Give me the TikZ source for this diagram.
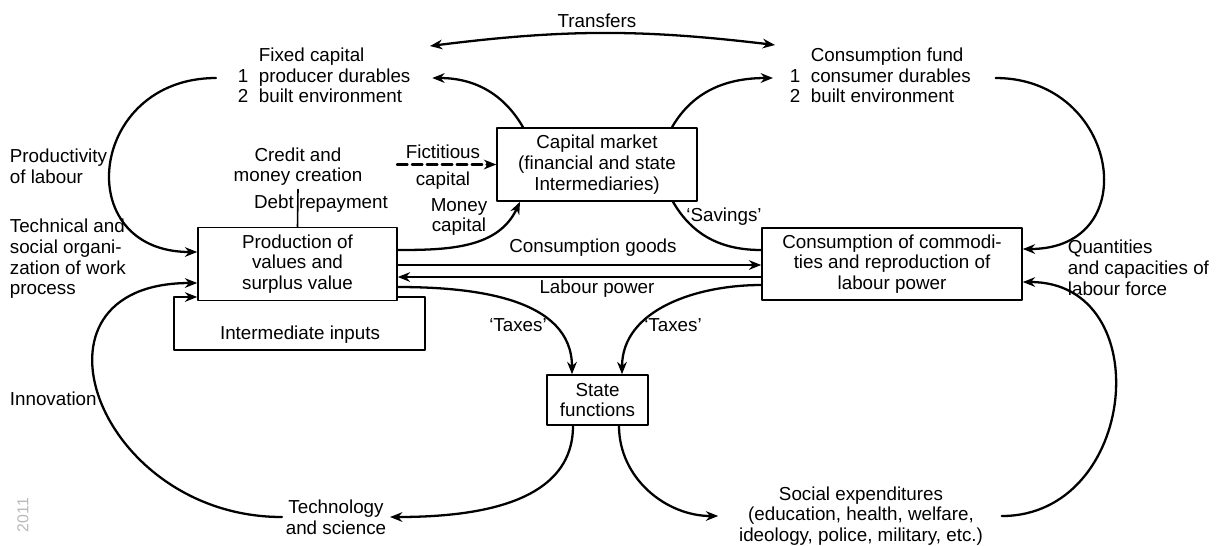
\documentclass[tikz,border=0pt]{standalone}
\usepackage{fontspec}
\setmainfont{Liberation Sans}
\usetikzlibrary{arrows.meta,positioning,calc}

\tikzset{
  block/.style={draw, line width=0.9pt, align=center, inner sep=2pt},
  lbl/.style={align=center, inner sep=2pt},
  flow/.style={line width=1.3pt},
}

\begin{document}
\begin{tikzpicture}[>={Stealth[length=7pt,width=5.5pt]}, line cap=round, line join=round,
  font=\fontsize{10.7pt}{11.8pt}\selectfont]

\useasboundingbox (0,0) rectangle (24.42,-10.9);

% --- boxes ---
\node[block, minimum width=3.98cm, minimum height=1.46cm] (prod) at (5.95,-5.28)
  {Production of\\values and\\surplus value};
\node[block, minimum width=4cm, minimum height=1.46cm] (capmkt) at (11.94,-3.29)
  {Capital market\\(financial and state\\Intermediaries)};
\node[block, minimum width=5.2cm, minimum height=1.44cm] (cons) at (17.84,-5.28)
  {Consumption of commodi-\\ties and reproduction of\\labour power};
\node[block, minimum width=2.02cm, minimum height=1cm] (state) at (11.95,-8.0)
  {State\\functions};

% --- text blocks ---
\node[lbl, anchor=west] (fixed) at (4.68,-1.56)
  {\begin{tabular}{@{}l@{\hspace{6pt}}l@{}} & Fixed capital\\ 1 & producer durables\\ 2 & built environment\end{tabular}};
\node[lbl, anchor=west] (fund) at (15.72,-1.56)
  {\begin{tabular}{@{}l@{\hspace{6pt}}l@{}} & Consumption fund\\ 1 & consumer durables\\ 2 & built environment\end{tabular}};
\node[lbl] (credit) at (5.96,-3.33) {Credit and\\money creation};
\node[lbl] (debt) at (6.42,-4.08) {Debt repayment};
\node[lbl] (fictup) at (8.86,-3.04) {Fictitious};
\node[lbl] (fictdown) at (8.86,-3.62) {capital};
\node[lbl] (money) at (9.18,-4.34) {Money\\capital};
\node[lbl] (inter) at (6.0,-6.7) {Intermediate inputs};
\node[lbl] (tech) at (6.72,-10.34) {Technology\\and science};
\node[lbl] (social) at (17.22,-10.32)
  {Social expenditures\\(education, health, welfare,\\ideology, police, military, etc.)};
\node[lbl, anchor=west, align=left] (prodlab) at (0.12,-3.32) {Productivity\\of labour};
\node[lbl, anchor=west, align=left] (techorg) at (0.12,-5.18)
  {Technical and\\social organi-\\zation of work\\process};
\node[lbl, anchor=west] (innov) at (0.12,-7.98) {Innovation};
\node[lbl, anchor=west, align=left] (quant) at (21.28,-5.36)
  {Quantities\\and capacities of\\labour force};
\node[lbl] (transf) at (11.94,-0.42) {Transfers};
\node[lbl] (goods) at (11.86,-4.96) {Consumption goods};
\node[lbl] (labour) at (11.94,-5.78) {Labour power};
\node[lbl] (taxl) at (10.36,-6.5) {`Taxes'};
\node[lbl] (taxr) at (13.46,-6.5) {`Taxes'};
\node[lbl] (sav) at (14.48,-4.34) {`Savings'};
\node[lbl, rotate=90, text=gray!55, font=\fontsize{9pt}{10pt}\selectfont] (year) at (0.46,-10.3) {2011};

% --- connectors ---
\coordinate (trL) at (8.6,-0.92);
\coordinate (trR) at (15.5,-0.9);
\coordinate (fict) at (7.94,-3.29);

% transfers
\draw[flow,<->] (trL) to[bend left=7] (trR);

% capital market up to the two funds
\draw[flow,->] ([xshift=-1.48cm]capmkt.north) to[out=120,in=0] ([xshift=0.36cm]fixed.east);
\draw[flow,->] ([xshift=1.5cm]capmkt.north) to[out=60,in=180] ([xshift=-0.26cm]fund.west);

% big loops on the left
\draw[flow,->] ([xshift=-0.36cm]fixed.west) to[out=180,in=180,looseness=1.87] ([yshift=0.24cm]prod.west);
\draw[flow,->] (tech.west) to[out=180,in=180,looseness=1.9] ([yshift=-0.38cm]prod.west);

% intermediate inputs
\draw[flow,->] ([yshift=-0.66cm]prod.east) -| ++(0.54,-1.06) -| ++(-5.02,1.06) -- ([yshift=-0.66cm]prod.west);

% credit / debt
\draw[line width=0.9pt] (credit.south) -- (prod.north);

% fictitious and money capital
\draw[flow,->,dash pattern=on 6pt off 2.5pt] (fict) -- (capmkt.west);
\draw[flow,->] ([yshift=0.28cm]prod.east) to[out=0,in=-115] ([xshift=-1.54cm]capmkt.south);
\draw[flow] ([yshift=0.28cm]cons.west) to[out=180,in=-60] ([xshift=1.52cm]capmkt.south);

% goods and labour power
\draw[flow,->] ([yshift=-0.02cm]prod.east) -- ([yshift=-0.02cm]cons.west);
\draw[flow,->] ([yshift=-0.26cm]cons.west) -- ([yshift=-0.26cm]prod.east);

% taxes
\draw[flow,->] ([yshift=-0.46cm]prod.east) to[out=0,in=90] ([xshift=-0.51cm]state.north);
\draw[flow,->] ([yshift=-0.42cm]cons.west) to[out=180,in=90] ([xshift=0.49cm]state.north);

% state outputs
\draw[flow,->] ([xshift=-0.49cm]state.south) to[out=-90,in=0] (tech.east);
\draw[flow,->] ([xshift=0.43cm]state.south) to[out=-90,in=180] ([xshift=-0.34cm]social.west);

% loops on the right
\draw[flow,->] ([xshift=0.42cm]fund.east) to[out=0,in=0,looseness=1.82] ([yshift=0.3cm]cons.east);
\draw[flow,->] ([xshift=0.3cm]social.east) to[out=0,in=0,looseness=1.48] ([yshift=-0.36cm]cons.east);

\end{tikzpicture}
\end{document}
